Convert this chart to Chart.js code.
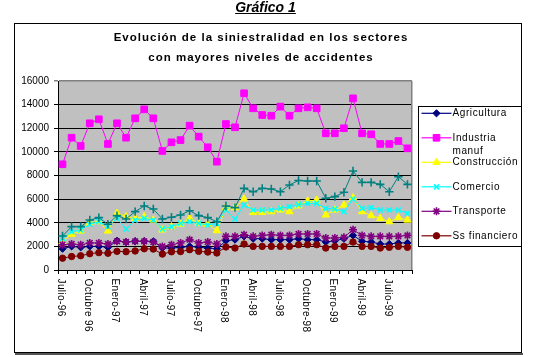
<!DOCTYPE html>
<html><head><meta charset="utf-8">
<script src="https://cdn.jsdelivr.net/npm/chart.js@4"></script>
<style>
html,body{margin:0;padding:0;background:#fff;}
#wrap{position:relative;width:535px;height:357px;overflow:hidden;}
canvas{position:absolute;left:0;top:0;}
#g1{position:absolute;left:-2px;top:-1px;width:535px;text-align:center;font:italic bold 14px "Liberation Sans",Arial,sans-serif;line-height:16px;color:#000;}
#g1 span{text-decoration:underline;}
#ct{position:absolute;left:0;top:28px;width:522px;text-align:center;font:bold 11.5px "Liberation Sans",Arial,sans-serif;line-height:19.5px;letter-spacing:1px;color:#000;}
</style></head>
<body>
<div id="wrap">
<canvas id="c" width="535" height="357"></canvas>
<div id="g1"><span id="pageTitle"></span></div>
<div id="ct"></div>
</div>
<script>
const pageTitle = 'Gráfico 1';
const chartTitle = ['Evolución de la siniestralidad en los sectores', 'con mayores niveles de accidentes'];
const months = ['Julio-96','Agosto-96','Septiembre-96','Octubre 96','Noviembre-96','Diciembre-96',
 'Enero-97','Febrero-97','Marzo-97','Abril-97','Mayo-97','Junio-97',
 'Julio-97','Agosto-97','Septiembre-97','Octubre-97','Noviembre-97','Diciembre-97',
 'Enero-98','Febrero-98','Marzo-98','Abril-98','Mayo-98','Junio-98',
 'Julio-98','Agosto-98','Septiembre-98','Octubre-98','Noviembre-98','Diciembre-98',
 'Enero-99','Febrero-99','Marzo-99','Abril-99','Mayo-99','Junio-99',
 'Julio-99','Agosto-99','Septiembre-99'];
const seriesNames = ['Agricultura','Industria manuf','Construcción','Comercio','Transporte','Ss financiero','Serie 7'];
const agricultura = [1800,2000,1920,2000,2000,1920,2480,2370,2430,2430,2430,1860,1860,1920,2000,1920,1860,1800,2480,2570,2850,2650,2650,2570,2570,2570,2650,2570,2570,2370,2480,2650,2930,2430,2370,2200,2200,2290,2290];
const industria = [8950,11200,10500,12420,12760,10670,12420,11200,12840,13600,12840,10075,10810,11000,12220,11290,10390,9170,12360,12080,14960,13690,13120,13060,13830,13060,13690,13770,13690,11570,11570,12000,14530,11570,11490,10670,10670,10920,10300];
const construccion = [2400,3020,3300,4010,4090,3300,4800,4510,4370,4510,4230,3390,3670,3880,4370,3950,3870,3330,5280,5280,6010,4880,4880,4940,5080,4940,5430,5840,5920,4660,5080,5500,6120,4940,4600,4370,4090,4430,4230];
const comercio = [2680,3250,3390,3870,4090,3670,4370,3470,4230,4370,4230,3470,3670,3950,4090,3950,3810,3950,5080,4320,5500,5080,5080,5080,5220,5360,5530,5640,5640,5220,5160,4940,6010,5220,5280,5080,5080,5080,4800];
const transporte = [2140,2200,2140,2290,2290,2200,2430,2370,2430,2430,2370,2000,2140,2290,2570,2290,2370,2200,2850,2850,2990,2850,2930,2990,2930,2930,3050,3050,3050,2710,2710,2770,3410,2930,2850,2850,2850,2850,2930];
const financiero = [1000,1140,1210,1380,1470,1420,1580,1550,1610,1800,1770,1350,1540,1560,1720,1580,1520,1440,1950,1860,2200,2000,2000,2000,2000,2000,2140,2140,2140,1860,2000,2000,2370,2000,2000,1860,1920,2000,1920];
const serie7 = [2880,3670,3670,4230,4430,3870,4600,4320,4940,5420,5160,4320,4460,4660,5020,4600,4430,4090,5420,5280,6910,6630,6910,6860,6630,7200,7580,7530,7530,6070,6210,6580,8380,7420,7420,7250,6630,7900,7250];
const yMin = 0, yMax = 16000, yStep = 2000;

document.getElementById('pageTitle').textContent = pageTitle;
document.getElementById('ct').innerHTML = chartTitle.map(t => t.replace(/&/g,'&amp;').replace(/</g,'&lt;')).join('<br>');

const FONT = '"Liberation Sans", Arial, sans-serif';
const seriesValues = [agricultura, industria, construccion, comercio, transporte, financiero, serie7];
const styles = [
  {c:'#000080', ps:'rectRot', r:3.6, bw:1},
  {c:'#FF00FF', ps:'rect', r:4.7, bw:1},
  {c:'#FFFF00', ps:'triangle', r:4.2, bw:1},
  {c:'#00FFFF', ps:'crossRot', r:3.6, bw:1.6},
  {c:'#800080', ps:'star', r:4, bw:1.6},
  {c:'#800000', ps:'circle', r:3.2, bw:1},
  {c:'#008080', ps:'cross', r:4.2, bw:1.6}
];
const legendHidden = [6];

const datasets = seriesNames.map((name, i) => ({
  label: name,
  data: seriesValues[i],
  borderColor: styles[i].c,
  backgroundColor: styles[i].c,
  borderWidth: 1,
  pointStyle: styles[i].ps,
  pointRadius: styles[i].r,
  pointBorderWidth: styles[i].bw,
  pointBackgroundColor: styles[i].c,
  pointBorderColor: styles[i].c,
  tension: 0,
  order: seriesNames.length - 1 - i
}));

const decor = {
  id: 'decor',
  beforeDraw(chart) {
    const ctx = chart.ctx, a = chart.chartArea;
    ctx.save();
    ctx.fillStyle = '#fff';
    ctx.fillRect(0, 0, chart.width, chart.height);
    ctx.strokeStyle = '#000';
    ctx.lineWidth = 1;
    ctx.strokeRect(14.5, 23.5, 507, 329);
    ctx.fillStyle = '#555';
    ctx.fillRect(15, 353, 508, 2);
    ctx.fillStyle = '#c0c0c0';
    ctx.fillRect(a.left, a.top, a.right - a.left, a.bottom - a.top);
    ctx.restore();
  },
  beforeDatasetsDraw(chart) {
    const ctx = chart.ctx, a = chart.chartArea;
    ctx.save();
    ctx.strokeStyle = '#808080';
    ctx.lineWidth = 1.5;
    ctx.beginPath();
    ctx.moveTo(a.right - 0.25, a.top);
    ctx.lineTo(a.right - 0.25, a.bottom);
    ctx.stroke();
    ctx.restore();
  },
  afterDraw(chart) {
    const ctx = chart.ctx;
    const xs = chart.scales.x;
    const a = chart.chartArea;
    ctx.save();
    ctx.font = '10px ' + FONT;
    ctx.fillStyle = '#000';
    try { ctx.letterSpacing = '0.4px'; } catch (e) {}
    months.forEach((m, i) => {
      if (i % 3 !== 0) return;
      const x = xs.getPixelForTick(i) - 1.8;
      ctx.save();
      ctx.translate(x, a.bottom + 8.5);
      ctx.rotate(Math.PI / 2);
      ctx.textAlign = 'left';
      ctx.textBaseline = 'middle';
      ctx.fillText(m, 0, 0);
      ctx.restore();
    });
    const L = {left: 418.5, top: 106.5, right: 521.5, bottom: 246.5};
    ctx.strokeStyle = '#000';
    ctx.lineWidth = 1;
    ctx.strokeRect(L.left, L.top, L.right - L.left, L.bottom - L.top);
    ctx.font = '10px ' + FONT;
    try { ctx.letterSpacing = '0.6px'; } catch (e) {}
    ctx.textAlign = 'left';
    ctx.textBaseline = 'middle';
    let row = 0;
    chart.data.datasets.forEach((ds, i) => {
      if (legendHidden.includes(i)) return;
      const y = 113.3 + row * 24.5;
      row++;
      ctx.strokeStyle = ds.borderColor;
      ctx.lineWidth = 1.2;
      ctx.beginPath();
      ctx.moveTo(421.5, y);
      ctx.lineTo(451.5, y);
      ctx.stroke();
      ctx.fillStyle = ds.pointBackgroundColor;
      ctx.strokeStyle = ds.pointBorderColor;
      ctx.lineWidth = ds.pointBorderWidth;
      if (Chart.helpers && Chart.helpers.drawPoint) {
        Chart.helpers.drawPoint(ctx, {pointStyle: ds.pointStyle, radius: ds.pointRadius, rotation: 0, borderWidth: ds.pointBorderWidth}, 436.5, y);
      } else {
        ctx.beginPath(); ctx.arc(436.5, y, 3, 0, Math.PI * 2); ctx.fill();
      }
      const words = ds.label.split(' ');
      const lines = [];
      let cur = '';
      words.forEach(w => {
        const t = cur ? cur + ' ' + w : w;
        if (cur && ctx.measureText(t).width > 68) { lines.push(cur); cur = w; } else cur = t;
      });
      lines.push(cur);
      ctx.fillStyle = '#000';
      lines.forEach((ln, k) => ctx.fillText(ln, 452.5, y + k * 13.4));
    });
    ctx.restore();
  }
};

new Chart(document.getElementById('c'), {
  type: 'line',
  data: {labels: months, datasets},
  options: {
    responsive: false,
    animation: false,
    devicePixelRatio: 1,
    layout: {padding: {left: 0, right: 123, top: 81, bottom: 87}},
    plugins: {legend: {display: false}, tooltip: {enabled: false}, title: {display: false}},
    scales: {
      x: {
        offset: true,
        grid: {offset: true, drawOnChartArea: false, drawTicks: true, tickLength: 4, color: '#000', lineWidth: 1},
        border: {color: '#000', width: 1},
        ticks: {display: false, autoSkip: false},
        afterFit(s) { s.height = 0; }
      },
      y: {
        min: yMin, max: yMax,
        ticks: {stepSize: yStep, font: {family: FONT, size: 10}, color: '#000', padding: 5, callback: v => String(v)},
        grid: {color: c => (c.tick && c.tick.value === yMax) ? '#808080' : '#000', lineWidth: c => (c.tick && c.tick.value === yMax) ? 1.5 : 1, tickLength: 4},
        border: {color: '#000', width: 1},
        afterFit(s) { s.width = 58; }
      }
    }
  },
  plugins: [decor]
});
</script>
</body></html>
